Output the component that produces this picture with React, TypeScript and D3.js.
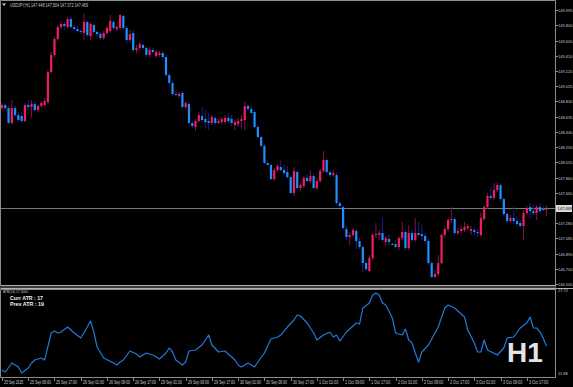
import React, { useRef, useEffect } from 'react'
import * as d3 from 'd3'

// USDJPY H1, first visible bar (weekend hours are not drawn)
const symbol = 'USDJPY,H1'
const firstBar = '2025-09-25T01:00:00Z'

// one row per hourly bar: [open, high, low, close]
const ohlc: number[][] = [
  [148.746, 148.810, 148.733, 148.784], [148.784, 148.797, 148.721, 148.746], [148.746, 148.784, 148.543, 148.556],
  [148.556, 148.848, 148.543, 148.746], [148.746, 148.784, 148.632, 148.657], [148.657, 148.696, 148.568, 148.594],
  [148.645, 148.696, 148.556, 148.581], [148.581, 148.810, 148.568, 148.784], [148.784, 148.848, 148.721, 148.759],
  [148.759, 148.848, 148.632, 148.797], [148.797, 148.823, 148.683, 148.721], [148.721, 148.797, 148.696, 148.772],
  [148.772, 148.835, 148.746, 148.810], [148.784, 148.874, 148.772, 148.835], [148.823, 149.231, 148.797, 149.205],
  [149.205, 149.460, 149.180, 149.422], [149.422, 149.651, 149.396, 149.626], [149.626, 149.804, 149.613, 149.778],
  [149.778, 149.855, 149.753, 149.817], [149.817, 149.842, 149.740, 149.791], [149.778, 149.906, 149.753, 149.880],
  [149.880, 149.919, 149.766, 149.778], [149.778, 149.804, 149.727, 149.753], [149.753, 149.791, 149.702, 149.727],
  [149.727, 149.753, 149.689, 149.715], [149.702, 149.944, 149.613, 149.842], [149.842, 149.868, 149.651, 149.676],
  [149.664, 149.842, 149.613, 149.817], [149.804, 149.817, 149.689, 149.715], [149.715, 149.740, 149.664, 149.689],
  [149.689, 149.715, 149.613, 149.638], [149.638, 149.727, 149.613, 149.702], [149.702, 149.791, 149.676, 149.766],
  [149.727, 149.931, 149.702, 149.855], [149.842, 149.868, 149.740, 149.766], [149.753, 149.804, 149.727, 149.778],
  [149.766, 149.944, 149.740, 149.931], [149.919, 149.944, 149.740, 149.766], [149.766, 149.791, 149.575, 149.613],
  [149.613, 149.740, 149.587, 149.689], [149.702, 149.740, 149.460, 149.485], [149.485, 149.549, 149.447, 149.511],
  [149.511, 149.587, 149.485, 149.562], [149.549, 149.575, 149.485, 149.511], [149.511, 149.536, 149.396, 149.422],
  [149.422, 149.524, 149.396, 149.485], [149.485, 149.511, 149.434, 149.460], [149.409, 149.485, 149.383, 149.460],
  [149.422, 149.473, 149.396, 149.447], [149.447, 149.473, 149.358, 149.396], [149.396, 149.422, 149.142, 149.167],
  [149.167, 149.193, 149.040, 149.065], [149.065, 149.103, 148.899, 148.925], [148.925, 148.976, 148.887, 148.912],
  [148.899, 148.950, 148.874, 148.925], [148.938, 148.963, 148.746, 148.759], [148.759, 148.835, 148.733, 148.810],
  [148.797, 148.823, 148.543, 148.556], [148.556, 148.581, 148.492, 148.517], [148.504, 148.607, 148.454, 148.581],
  [148.581, 148.696, 148.556, 148.657], [148.645, 148.759, 148.568, 148.594], [148.607, 148.721, 148.479, 148.568],
  [148.581, 148.683, 148.466, 148.556], [148.556, 148.657, 148.530, 148.632], [148.619, 148.645, 148.530, 148.556],
  [148.556, 148.607, 148.543, 148.581], [148.568, 148.632, 148.543, 148.607], [148.568, 148.657, 148.543, 148.619],
  [148.619, 148.683, 148.556, 148.581], [148.607, 148.657, 148.517, 148.556], [148.530, 148.594, 148.466, 148.568],
  [148.543, 148.619, 148.504, 148.581], [148.581, 148.657, 148.479, 148.607], [148.594, 148.823, 148.466, 148.772],
  [148.772, 148.797, 148.708, 148.733], [148.733, 148.759, 148.670, 148.683], [148.696, 148.721, 148.492, 148.504],
  [148.504, 148.530, 148.364, 148.377], [148.377, 148.402, 148.250, 148.263], [148.263, 148.288, 148.033, 148.046],
  [148.046, 148.072, 148.008, 148.021], [148.021, 148.046, 147.829, 147.842], [147.842, 147.982, 147.816, 147.957],
  [147.957, 148.033, 147.931, 148.008], [147.995, 148.084, 147.931, 147.957], [147.957, 148.021, 147.893, 147.918],
  [147.931, 148.008, 147.842, 147.867], [147.867, 147.893, 147.651, 147.664], [147.664, 147.995, 147.626, 147.944],
  [147.931, 147.957, 147.702, 147.727], [147.727, 147.791, 147.689, 147.765], [147.753, 147.880, 147.727, 147.855],
  [147.855, 147.906, 147.804, 147.816], [147.816, 147.957, 147.791, 147.880], [147.880, 147.906, 147.715, 147.727],
  [147.727, 147.855, 147.702, 147.816], [147.816, 147.970, 147.791, 147.944], [147.944, 148.199, 147.918, 148.084],
  [148.084, 148.110, 147.906, 147.931], [147.931, 147.957, 147.867, 147.893], [147.893, 147.957, 147.867, 147.918],
  [147.893, 147.931, 147.511, 147.536], [147.536, 147.562, 147.473, 147.498], [147.485, 147.511, 147.192, 147.218],
  [147.205, 147.243, 147.065, 147.103], [147.103, 147.167, 147.001, 147.129], [147.129, 147.218, 147.103, 147.192],
  [147.180, 147.205, 146.951, 147.052], [147.052, 147.090, 146.951, 146.976], [146.976, 147.001, 146.657, 146.772],
  [146.772, 146.810, 146.670, 146.695], [146.670, 146.874, 146.657, 146.835], [146.835, 147.154, 146.810, 147.129],
  [147.129, 147.282, 147.090, 147.141], [147.129, 147.192, 147.065, 147.154], [147.154, 147.346, 147.039, 147.065],
  [147.039, 147.116, 146.989, 147.090], [147.078, 147.141, 147.001, 147.039], [147.014, 147.027, 147.001, 147.014],
  [147.014, 147.065, 146.963, 146.976], [146.976, 147.116, 146.938, 147.090], [147.090, 147.295, 147.065, 147.167],
  [147.167, 147.192, 146.938, 146.963], [146.963, 147.256, 146.938, 147.154], [147.154, 147.192, 147.039, 147.065],
  [147.065, 147.346, 147.039, 147.154], [147.154, 147.295, 147.103, 147.129], [147.141, 147.256, 147.065, 147.116],
  [147.116, 147.154, 147.001, 147.052], [147.052, 147.078, 146.746, 146.772], [146.772, 146.797, 146.581, 146.594],
  [146.594, 146.683, 146.581, 146.632], [146.632, 146.874, 146.607, 146.772], [146.772, 147.154, 146.759, 147.129],
  [147.129, 147.243, 147.090, 147.205], [147.205, 147.346, 147.167, 147.320], [147.320, 147.485, 147.282, 147.333],
  [147.333, 147.358, 147.129, 147.154], [147.154, 147.218, 147.129, 147.180], [147.180, 147.243, 147.154, 147.205],
  [147.192, 147.295, 147.167, 147.231], [147.218, 147.269, 147.192, 147.243], [147.180, 147.243, 147.129, 147.205],
  [147.192, 147.231, 147.129, 147.167], [147.167, 147.205, 147.103, 147.154], [147.129, 147.409, 147.103, 147.346],
  [147.333, 147.511, 147.307, 147.485], [147.485, 147.664, 147.460, 147.626], [147.626, 147.740, 147.575, 147.600],
  [147.600, 147.791, 147.575, 147.702], [147.702, 147.791, 147.676, 147.765], [147.765, 147.791, 147.562, 147.587],
  [147.587, 147.613, 147.371, 147.396], [147.396, 147.422, 147.282, 147.307], [147.307, 147.384, 147.282, 147.346],
  [147.346, 147.498, 147.269, 147.307], [147.307, 147.371, 147.243, 147.269], [147.282, 147.320, 147.218, 147.243],
  [147.243, 147.447, 147.065, 147.409], [147.409, 147.498, 147.384, 147.473], [147.485, 147.536, 147.346, 147.434],
  [147.434, 147.511, 147.384, 147.409], [147.409, 147.511, 147.320, 147.485], [147.485, 147.536, 147.409, 147.434],
  [147.460, 147.498, 147.434, 147.447], [147.448, 147.504, 147.372, 147.469],
]

// right price scale labels (147.470 sits under the bid label)
const priceTicks = [149.995, 149.8, 149.605, 149.41, 149.22, 149.025, 148.83, 148.635, 148.44, 148.25,
  148.055, 147.86, 147.665, 147.28, 147.085, 146.89, 146.7, 146.505]
const priceMin = 146.505
const priceMax = 149.995

// ATR(14) sub window, read at these bars
const atrBars = [0, 1, 3, 5, 6, 8, 9, 10, 12, 13, 15, 16, 17, 18, 20, 22, 24, 26, 27, 28, 29, 31, 34, 35, 36, 37, 39, 41, 42, 44,
  46, 48, 50, 51, 52, 53, 55, 56, 57, 59, 61, 63, 64, 66, 68, 70, 71, 72, 73, 75, 77, 78, 80, 82, 84, 85, 87, 89, 90, 91,
  93, 95, 96, 98, 100, 101, 102, 103, 105, 108, 109, 110, 112, 113, 114, 115, 116, 117, 119, 120, 122, 123, 124, 125, 126, 127, 128, 130, 132, 133,
  135, 136, 138, 141, 142, 144, 145, 146, 147, 148, 151, 153, 154, 156, 158, 160, 161, 162, 163, 164, 165, 166]
const atrValues = [12.97, 12.61, 14.25, 13.52, 12.43, 13.34, 14.25, 14.79, 15.16, 14.79, 19.71, 20.07, 19.71, 19.89, 20.8, 19.71, 18.8, 20.8, 21.89, 19.89,
  17.16, 15.16, 14.25, 13.88, 14.43, 14.79, 16.43, 15.88, 15.34, 16.07, 15.7, 14.97, 16.07, 16.98, 16.25, 14.79, 13.88, 14.43, 16.43, 16.61,
  17.52, 19.34, 17.52, 16.25, 16.43, 15.34, 14.79, 13.88, 13.52, 14.25, 13.52, 14.43, 16.07, 18.61, 18.98, 19.34, 20.8, 22.07, 22.98, 22.8,
  21.53, 19.71, 18.43, 19.34, 19.89, 18.98, 19.34, 18.25, 19.89, 21.53, 21.34, 24.26, 25.17, 26.62, 26.99, 26.62, 25.17, 24.8, 22.44, 19.71,
  19.34, 20.43, 18.43, 17.89, 16.07, 14.43, 16.25, 17.52, 19.71, 20.8, 24.26, 24.8, 24.26, 22.62, 20.25, 17.89, 16.25, 16.25, 18.43, 16.61,
  15.7, 16.98, 18.8, 18.98, 20.62, 21.53, 22.62, 20.62, 20.62, 19.89, 18.8, 17.3]
const atrMin = 11.88
const atrMax = 27.72
const atrCurr = 17
const atrPrev = 19

export default function App() {
  const svgRef = useRef<SVGSVGElement>(null)

  const width = 573
  const height = 387
  const axisX = 555.5
  const mainBottom = 285
  const atrTop = 289
  const atrBottom = 377

  useEffect(() => {
    document.body.style.margin = '0'
    document.body.style.background = '#000'

    const svg = d3.select(svgRef.current)
    svg.selectAll('*').remove()

    svg.append('rect').attr('width', width).attr('height', height).attr('fill', '#000')

    const x = d3.scaleLinear().domain([0, ohlc.length - 1]).range([2, 546.5])
    const y = d3.scaleLinear().domain([priceMin, priceMax]).range([284, 10])
    const yAtr = d3.scaleLinear().domain([atrMin, atrMax]).range([376, 289])

    // bar times, skipping saturday / sunday
    const times: Date[] = []
    let t = new Date(firstBar)
    while (times.length < ohlc.length) {
      const wd = t.getUTCDay()
      if (wd !== 0 && wd !== 6) times.push(new Date(t))
      t = d3.utcHour.offset(t, 1)
    }

    const grey = '#8c8c8c'
    const txt = '#c8c8c8'
    const font = 'Liberation Sans, Arial, sans-serif'

    // frames
    svg.append('path')
      .attr('d', `M0.5,${mainBottom + 0.5}V0.5H${axisX}V${atrBottom + 0.5}H0.5V${atrTop + 0.5}H${axisX}`)
      .attr('fill', 'none').attr('stroke', grey)
    svg.append('rect').attr('x', 0).attr('y', mainBottom + 1).attr('width', axisX).attr('height', 2).attr('fill', '#3a3a3a')
    svg.append('line').attr('x1', 0.5).attr('x2', axisX).attr('y1', mainBottom + 0.5).attr('y2', mainBottom + 0.5)
      .attr('stroke', '#b0b0b0')
    svg.append('line').attr('x1', 0.5).attr('x2', width).attr('y1', atrTop - 0.5).attr('y2', atrTop - 0.5)
      .attr('stroke', '#b0b0b0')

    // bid line
    const bid = ohlc[ohlc.length - 1][3]
    svg.append('line')
      .attr('x1', 1).attr('x2', axisX)
      .attr('y1', Math.round(y(bid)) + 0.5).attr('y2', Math.round(y(bid)) + 0.5)
      .attr('stroke', '#7a7a7a')

    // candles
    const up = '#f01d63'
    const down = '#1e8fff'
    const upWick = '#7d1456'
    const downWick = '#1d1d8c'
    const doji = '#00b400'

    const g = svg.append('g')
    ohlc.forEach(([o, h, l, c], i) => {
      const cx = x(i)
      const isDoji = Math.abs(c - o) < 0.0005
      const bull = c > o
      g.append('line')
        .attr('x1', cx).attr('x2', cx)
        .attr('y1', y(h)).attr('y2', y(l))
        .attr('stroke', isDoji ? doji : bull ? upWick : downWick)
        .attr('stroke-width', 1)
      const top = y(Math.max(o, c))
      const bh = Math.max(1, Math.abs(y(o) - y(c)))
      g.append('rect')
        .attr('x', cx - 1.1).attr('y', top)
        .attr('width', 2.2).attr('height', bh)
        .attr('fill', isDoji ? doji : bull ? up : down)
    })

    // price axis
    const pa = svg.append('g')
    priceTicks.forEach(p => {
      const py = Math.round(y(p)) + 0.5
      pa.append('line').attr('x1', axisX).attr('x2', axisX + 2.5).attr('y1', py).attr('y2', py).attr('stroke', grey)
      pa.append('text')
        .attr('x', 558).attr('y', py + 1.4)
        .attr('font-family', font).attr('font-size', 4).attr('fill', txt)
        .text(d3.format('.3f')(p))
    })
    const by = Math.round(y(bid)) + 0.5
    pa.append('rect').attr('x', 556).attr('y', by - 3.5).attr('width', 16).attr('height', 7).attr('fill', '#d8d8d8')
    pa.append('text')
      .attr('x', 557.5).attr('y', by + 1.4)
      .attr('font-family', font).attr('font-size', 4).attr('fill', '#000')
      .text(d3.format('.3f')(bid))

    // ATR scale labels
    ;[atrMax, atrMin].forEach((v, k) => {
      pa.append('text')
        .attr('x', 558).attr('y', (k === 0 ? 291 : 374) + 1.4)
        .attr('font-family', font).attr('font-size', 4).attr('fill', txt)
        .text(d3.format('.2f')(v))
    })

    // time axis
    const fmt = d3.utcFormat('%-d %b %H:%M')
    const fmtFirst = d3.utcFormat('%-d %b %Y')
    const ta = svg.append('g')
    times.forEach((d, i) => {
      if (d.getUTCHours() % 8 !== 1) return
      const tx = Math.round(x(i)) + 0.5
      ta.append('line').attr('x1', tx).attr('x2', tx).attr('y1', atrBottom).attr('y2', atrBottom + 4).attr('stroke', grey)
      const label = i === 0 ? fmtFirst(d) : fmt(d)
      ta.append('text')
        .attr('x', tx + 1.5).attr('y', atrBottom + 6.5)
        .attr('font-family', font).attr('font-size', 4.6).attr('fill', txt)
        .attr('textLength', label.length * 1.75).attr('lengthAdjust', 'spacingAndGlyphs')
        .text(label)
    })

    // ATR line
    const atrLine = d3.line<number>()
      .x((_, k) => x(atrBars[k]))
      .y(v => yAtr(v))
    svg.append('path')
      .attr('d', atrLine(atrValues))
      .attr('fill', 'none')
      .attr('stroke', '#1f7ad8')
      .attr('stroke-width', 1.2)
      .attr('stroke-linejoin', 'round')

    // header
    svg.append('path').attr('d', 'M2,3.5L6,3.5L4,6Z').attr('fill', '#d0d0d0')
    const last = ohlc[ohlc.length - 1]
    svg.append('text')
      .attr('x', 10).attr('y', 6.8)
      .attr('font-family', font).attr('font-size', 4.6).attr('fill', txt)
      .attr('textLength', 78).attr('lengthAdjust', 'spacingAndGlyphs')
      .text(`${symbol} ${last.map(v => v.toFixed(3)).join(' ')}`)

    // ATR window texts
    svg.append('text')
      .attr('x', 3).attr('y', 293)
      .attr('font-family', font).attr('font-size', 4.4).attr('fill', txt)
      .attr('textLength', 25).attr('lengthAdjust', 'spacingAndGlyphs')
      .text(`ATR(14) ${atrValues[atrValues.length - 1].toFixed(4)}`)
    svg.append('text')
      .attr('x', 10).attr('y', 299.5)
      .attr('font-family', font).attr('font-size', 6).attr('font-weight', 'bold').attr('fill', '#f0f0f0')
      .attr('textLength', 33).attr('lengthAdjust', 'spacingAndGlyphs')
      .text(`Curr ATR : ${atrCurr}`)
    svg.append('text')
      .attr('x', 10).attr('y', 306)
      .attr('font-family', font).attr('font-size', 6).attr('font-weight', 'bold').attr('fill', '#f0f0f0')
      .attr('textLength', 34).attr('lengthAdjust', 'spacingAndGlyphs')
      .text(`Prev ATR : ${atrPrev}`)

    // timeframe watermark
    svg.append('text')
      .attr('x', 507).attr('y', 362)
      .attr('font-family', font).attr('font-size', 28).attr('font-weight', 'bold').attr('fill', '#e4e4e4')
      .text('H1')
  }, [])

  return (
    <div style={{ position: 'absolute', left: 0, top: 0 }}>
      <svg ref={svgRef} width={width} height={height} style={{ display: 'block' }}></svg>
    </div>
  )
}
